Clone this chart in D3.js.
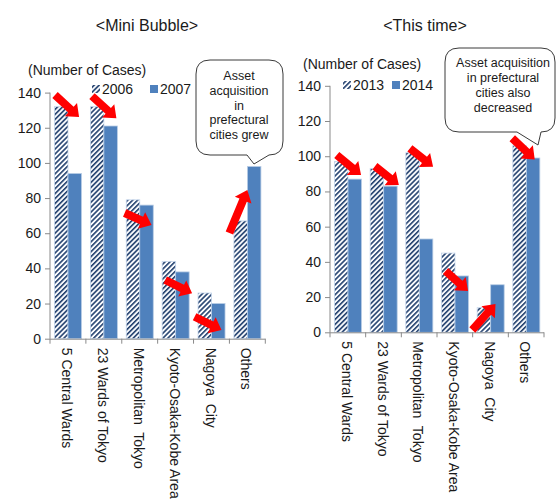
<!doctype html>
<html lang="en">
<head>
  <meta charset="utf-8">
  <title>Mini Bubble vs This time</title>
  <style>
    * { margin: 0; padding: 0; box-sizing: border-box; }
    body { background: #fff; }
    svg text { font-family: "Liberation Sans", Arial, sans-serif; fill: #1a1a1a; }
    .callout text { font-size: 12.5px; }
  </style>
</head>
<body>
  <div id="container"></div>
  <script src="https://cdn.jsdelivr.net/npm/d3@7/dist/d3.min.js"></script>
  <script>
    const categories = ['5 Central Wards', '23 Wards of Tokyo', 'Metropolitan  Tokyo',
                        'Kyoto-Osaka-Kobe Area', 'Nagoya  City', 'Others'];
    const mini2006 = [132, 132, 79, 44, 26, 67];
    const mini2007 = [94, 121, 76, 38, 20, 98];
    const now2013 = [97, 93, 102, 45, 14, 106];
    const now2014 = [87, 83, 53, 32, 27, 99];
    const yTicks = [0, 20, 40, 60, 80, 100, 120, 140];

    // arrows: [category, from x (share of band), from value, to x, to value]
    const miniArrows = [
      [0, 0.14, 138.6, 0.81, 126.1],
      [1, 0.17, 138, 0.85, 125.4],
      [2, 0.08, 71.5, 0.83, 64.7],
      [3, 0.21, 33.4, 0.96, 25.8],
      [4, 0.03, 12.5, 0.78, 4.9],
      [5, 0.0, 60.1, 0.5, 84.6]
    ];
    const nowArrows = [
      [0, 0.19, 100.7, 0.87, 89.3],
      [1, 0.26, 94.3, 0.93, 83.6],
      [2, 0.24, 104.5, 0.89, 94],
      [3, 0.24, 34.8, 0.87, 23.5],
      [4, -0.01, 1.3, 0.64, 16.1],
      [5, 0.11, 110.2, 0.74, 98.2]
    ];

    const svg = d3.select('#container').append('svg')
      .attr('width', 556).attr('height', 501);

    const defs = svg.append('defs');
    const pat = defs.append('pattern')
      .attr('id', 'hatch')
      .attr('patternUnits', 'userSpaceOnUse')
      .attr('width', 3.5).attr('height', 10)
      .attr('patternTransform', 'rotate(45)');
    pat.append('rect').attr('width', 3.5).attr('height', 10).attr('fill', '#fbfcfe');
    pat.append('rect').attr('width', 1.6).attr('height', 10).attr('fill', '#22406e');

    function arrowPath(x1, y1, x2, y2) {
      const shaft = 8, headW = 18, headL = 11;
      const dx = x2 - x1, dy = y2 - y1, len = Math.hypot(dx, dy);
      const ux = dx / len, uy = dy / len, nx = -uy, ny = ux;
      const bx = x2 - ux * headL, by = y2 - uy * headL;
      const pts = [
        [x1 + nx * shaft / 2, y1 + ny * shaft / 2],
        [bx + nx * shaft / 2, by + ny * shaft / 2],
        [bx + nx * headW / 2, by + ny * headW / 2],
        [x2, y2],
        [bx - nx * headW / 2, by - ny * headW / 2],
        [bx - nx * shaft / 2, by - ny * shaft / 2],
        [x1 - nx * shaft / 2, y1 - ny * shaft / 2]
      ];
      return 'M' + pts.map(p => p.join(',')).join('L') + 'Z';
    }

    function calloutPath(b) {
      const r = 14, { x0, y0, x1, y1, t1, tx, ty, t2 } = b;
      return `M${x0 + r},${y0}H${x1 - r}Q${x1},${y0} ${x1},${y0 + r}V${y1 - r}` +
        `Q${x1},${y1} ${x1 - r},${y1}H${t2}L${tx},${ty}L${t1},${y1}H${x0 + r}` +
        `Q${x0},${y1} ${x0},${y1 - r}V${y0 + r}Q${x0},${y0} ${x0 + r},${y0}Z`;
    }

    function panel(cfg) {
      const g = svg.append('g');
      const x = d3.scaleBand().domain(d3.range(categories.length))
        .range([cfg.left, cfg.right]);
      const y = d3.scaleLinear().domain([0, 140]).range([cfg.bottom, cfg.top]);
      const pad = 4.5, bw = 13.5;

      g.append('text').attr('x', cfg.titleX).attr('y', 31)
        .attr('text-anchor', 'middle').style('font-size', '16px').text(cfg.title);
      g.append('text').attr('x', cfg.unitX).attr('y', cfg.unitY)
        .style('font-size', '14px').text('(Number of Cases)');

      // legend
      const lg = g.append('g');
      cfg.legend.forEach((d, i) => {
        lg.append('rect').attr('x', d.x).attr('y', cfg.legendY - 4)
          .attr('width', 8).attr('height', 8)
          .attr('fill', i === 0 ? 'url(#hatch)' : '#4f81bd');
        lg.append('text').attr('x', d.x + 10).attr('y', cfg.legendY + 5)
          .style('font-size', '14px').text(d.label);
      });

      // y axis
      const ya = g.append('g').attr('transform', `translate(${cfg.left},0)`)
        .call(d3.axisLeft(y).tickValues(yTicks).tickSize(5).tickPadding(4));
      ya.selectAll('path, line').attr('stroke', '#8a8a8a');
      ya.select('.domain').attr('d', `M0,${cfg.bottom}V${cfg.top}`);
      ya.selectAll('text').style('font-size', '14px')
        .style('font-family', '"Liberation Sans", Arial, sans-serif').attr('fill', '#1a1a1a');

      // bars
      g.selectAll('.b1').data(cfg.s1).join('rect')
        .attr('x', (d, i) => x(i) + pad).attr('width', bw)
        .attr('y', d => y(d)).attr('height', d => y(0) - y(d))
        .attr('fill', 'url(#hatch)').attr('stroke', '#c5d6ec').attr('stroke-width', 0.8);
      g.selectAll('.b2').data(cfg.s2).join('rect')
        .attr('x', (d, i) => x(i) + pad + bw).attr('width', bw)
        .attr('y', d => y(d)).attr('height', d => y(0) - y(d))
        .attr('fill', '#4f81bd').attr('stroke', '#b9cde5').attr('stroke-width', 0.8);

      // x axis
      const xa = g.append('g');
      xa.append('line').attr('x1', cfg.left).attr('x2', cfg.right)
        .attr('y1', y(0) + 0.5).attr('y2', y(0) + 0.5).attr('stroke', '#8a8a8a');
      d3.range(categories.length + 1).forEach(i => {
        const xx = cfg.left + i * x.bandwidth();
        xa.append('line').attr('x1', xx).attr('x2', xx)
          .attr('y1', y(0)).attr('y2', y(0) + 5).attr('stroke', '#8a8a8a');
      });
      xa.selectAll('text').data(categories).join('text')
        .attr('transform', (d, i) => `translate(${x(i) + x.bandwidth() / 2 - 1},${y(0) + 9}) rotate(90)`)
        .attr('dy', '0.35em').style('font-size', '14px').style('white-space', 'pre')
        .text(d => d);

      // arrows
      g.selectAll('.arrow').data(cfg.arrows).join('path')
        .attr('d', a => arrowPath(x(a[0]) + a[1] * x.bandwidth(), y(a[2]),
                                  x(a[0]) + a[3] * x.bandwidth(), y(a[4])))
        .attr('fill', '#ff0000');

      // callout
      const c = g.append('g').attr('class', 'callout');
      c.append('path').attr('d', calloutPath(cfg.box))
        .attr('fill', '#fff').attr('stroke', '#3a3a3a').attr('stroke-width', 1);
      cfg.note.forEach((t, i) => {
        c.append('text').attr('x', cfg.noteX).attr('y', cfg.noteY + i * cfg.noteStep)
          .attr('text-anchor', 'middle').text(t);
      });
    }

    panel({
      title: '<Mini Bubble>', titleX: 147,
      left: 50, right: 265.3, top: 92.6, bottom: 338.7,
      unitX: 28, unitY: 75, legendY: 89,
      legend: [{ x: 92, label: '2006' }, { x: 150, label: '2007' }],
      s1: mini2006, s2: mini2007, arrows: miniArrows,
      box: { x0: 196, y0: 60, x1: 283, y1: 155, t1: 247, tx: 254, ty: 164, t2: 269 },
      note: ['Asset', 'acquisition', 'in', 'prefectural', 'cities grew'],
      noteX: 239, noteY: 80, noteStep: 14.8
    });

    panel({
      title: '<This time>', titleX: 425,
      left: 330, right: 544, top: 85.8, bottom: 332.3,
      unitX: 303, unitY: 69, legendY: 85,
      legend: [{ x: 343, label: '2013' }, { x: 392, label: '2014' }],
      s1: now2013, s2: now2014, arrows: nowArrows,
      box: { x0: 445, y0: 48, x1: 555, y1: 132, t1: 517, tx: 538, ty: 145, t2: 541 },
      note: ['Asset acquisition', 'in prefectural', 'cities also', 'decreased'],
      noteX: 503, noteY: 67, noteStep: 15
    });
  </script>
</body>
</html>
